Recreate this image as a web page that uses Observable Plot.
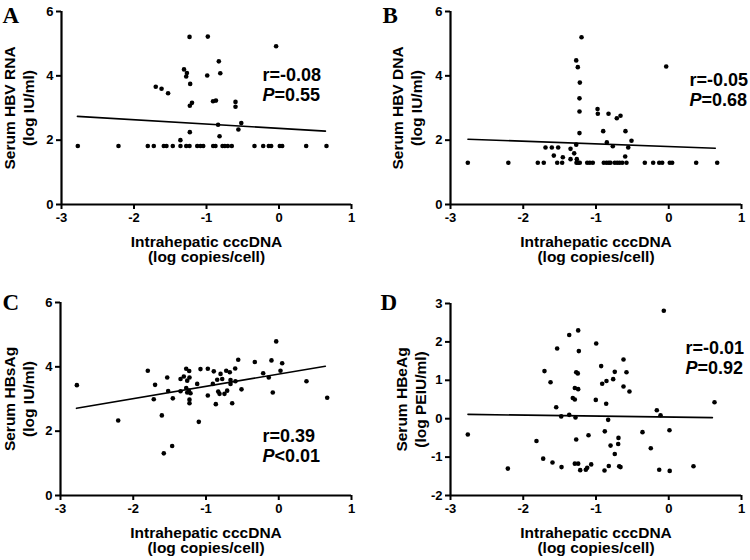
<!DOCTYPE html>
<html><head><meta charset="utf-8">
<script src="https://cdn.jsdelivr.net/npm/d3@7"></script>
<script src="https://cdn.jsdelivr.net/npm/@observablehq/plot@0.6"></script>
<style>
body{margin:0;background:#fff;}
#fig{position:relative;width:750px;height:560px;overflow:hidden;background:#fff;}
#fig > div{position:absolute;line-height:0;}
#fig svg{display:block;}
</style></head><body><div id="fig"></div>
<script>
// ---- shared ----
const xTicks = [-3, -2, -1, 0, 1];
const xLabel = "Intrahepatic cccDNA\n(log copies/cell)";

// ---- Panel A: Serum HBV RNA ----
const aX = [-1.234,-0.982,-0.83,-1.31,-1.27,-1.28,-0.99,-0.81,-1.225,-1.70,-1.62,-1.53,-1.20,-1.23,-0.91,-0.87,-0.60,-0.60,-0.52,-0.56,-0.84,-1.23,-0.82,-1.36,-0.04,
  -2.775,-2.214,-1.81,-1.727,-1.589,-1.552,-1.465,-1.359,-1.28,-1.234,-1.128,-1.083,-1.045,-0.908,-0.876,-0.779,-0.747,-0.706,-0.651,-0.338,-0.218,-0.141,-0.108,0.011,0.044,0.375,0.655];
const aY = [5.21,5.22,4.45,4.20,4.09,3.98,4.01,4.08,3.75,3.66,3.60,3.46,3.16,3.07,3.21,3.23,3.19,3.04,2.53,2.33,2.48,2.25,2.12,2.00,4.92,
  1.82,1.82,1.82,1.82,1.82,1.82,1.82,1.82,1.82,1.82,1.82,1.82,1.82,1.82,1.82,1.82,1.82,1.82,1.82,1.82,1.82,1.82,1.82,1.82,1.82,1.82,1.82];
const aFitX = [-2.78, 0.64];
const aFitY = [2.74, 2.28];

// ---- Panel B: Serum HBV DNA ----
const bX = [-1.199,-1.272,-1.25,-1.222,-1.227,-1.227,-1.227,-0.035,-0.979,-0.975,-0.828,-0.714,-0.663,-0.901,-0.595,-0.512,-0.851,-0.769,-0.557,-0.599,-1.694,-1.607,-1.52,-1.58,-1.456,-1.35,-1.30,-1.272,-1.35,-1.264,
  -2.762,-2.205,-1.80,-1.718,-1.533,-1.465,-1.268,-1.245,-1.223,-1.121,-1.085,-1.044,-0.893,-0.856,-0.824,-0.801,-0.742,-0.709,-0.677,-0.64,-0.581,-0.329,-0.214,-0.131,-0.09,0.014,0.047,0.377,0.666];
const bY = [5.20,4.48,4.27,3.79,3.30,2.89,2.22,4.29,2.97,2.82,2.82,2.68,2.76,2.28,2.28,1.98,1.93,1.81,1.77,1.49,1.77,1.77,1.77,1.52,1.47,1.73,1.59,1.86,1.41,1.41,
  1.30,1.30,1.30,1.30,1.30,1.30,1.30,1.30,1.30,1.30,1.30,1.30,1.30,1.30,1.30,1.30,1.30,1.30,1.30,1.30,1.30,1.30,1.30,1.30,1.30,1.30,1.30,1.30,1.30];
const bFitX = [-2.76, 0.64];
const bFitY = [2.03, 1.75];

// ---- Panel C: Serum HBsAg ----
const cX = [-0.035,-1.80,-1.533,-1.70,-1.718,-1.52,-1.456,-1.607,-2.207,-1.58,-1.465,-1.099,-1.272,-1.231,-1.35,-1.305,-1.227,-1.258,-1.35,-1.272,-1.236,-1.213,-1.258,-1.227,-1.227,-1.121,-1.076,-0.975,-0.893,-0.80,-0.722,-0.673,-0.599,-0.557,-0.329,-0.10,0.047,0.024,-0.214,-0.137,-0.082,0.381,0.666,-0.846,-0.906,-0.777,-0.663,-0.663,-0.595,-0.832,-0.814,-0.746,-0.709,-0.975,-0.865,-0.64,-0.512,-2.775];
const cY = [4.79,3.88,3.67,3.44,2.99,3.25,3.02,2.49,2.33,1.31,1.54,2.29,3.94,3.87,3.62,3.70,3.67,3.57,3.24,3.34,3.26,3.18,3.20,2.98,2.87,3.47,3.93,3.94,3.86,3.78,3.88,3.83,3.95,4.22,4.15,4.20,4.11,3.88,3.80,3.67,3.20,3.55,3.04,3.60,3.47,3.62,3.59,3.47,3.55,3.23,3.16,3.16,3.26,3.11,2.84,2.87,3.30,3.43];
const cFitX = [-2.78, 0.64];
const cFitY = [2.71, 4.02];

// ---- Panel D: Serum HBeAg ----
const dX = [-0.068,-2.762,-2.212,-1.818,-1.708,-1.625,-1.534,-1.547,-1.726,-1.598,-1.474,-1.478,-1.368,-1.245,-1.236,-1.272,-1.25,-1.291,-1.245,-1.319,-1.291,-1.368,-1.282,-1.272,-1.291,-1.245,-1.217,-1.14,-1.121,-1.066,-1.103,-0.997,-1.003,-0.929,-0.915,-0.856,-0.86,-0.833,-0.879,-0.883,-0.824,-0.764,-0.742,-0.622,-0.581,-0.622,-0.54,-0.691,-0.695,-0.80,-0.742,-0.681,-0.663,-0.361,-0.247,-0.164,-0.113,0.01,-0.131,0.013,0.34,0.629];
const dY = [2.81,-0.41,-1.30,-0.58,1.24,0.95,1.83,0.30,-1.04,-1.14,-1.26,0.06,2.18,2.30,1.76,1.21,1.18,0.80,0.77,0.54,0.50,0.10,0.03,-0.54,-1.17,-1.17,-1.34,-1.33,-1.28,-1.19,-0.43,1.96,0.49,1.37,0.91,0.98,0.39,-0.03,-0.33,-1.35,-1.23,1.03,1.22,1.54,1.21,0.84,0.71,-0.50,-0.66,-0.70,-0.92,-1.24,-1.26,-0.35,-0.77,0.22,0.09,-0.30,-1.33,-1.36,-1.24,0.43];
const dFitX = [-2.76, 0.60];
const dFitY = [0.113, 0.027];

const panels = [
  {letter:"A", yLabel:"Serum HBV RNA\n(log IU/ml)", r:"r=-0.08", p:"=0.55", xs:aX, ys:aY, fx:aFitX, fy:aFitY,
   yDomain:[0,6], yTicks:[0,2,4,6],
   left:0, top:0, width:375, height:268, ml:61, mr:24, mt:11, mb:64,
   letterDx:-59, letterDy:11, annDx:201, annDy:64, yLabDx:-43},
  {letter:"B", yLabel:"Serum HBV DNA\n(log IU/ml)", r:"r=-0.05", p:"=0.68", xs:bX, ys:bY, fx:bFitX, fy:bFitY,
   yDomain:[0,6], yTicks:[0,2,4,6],
   left:375, top:0, width:375, height:268, ml:75, mr:9, mt:11, mb:64,
   letterDx:-68, letterDy:11, annDx:239, annDy:69, yLabDx:-44},
  {letter:"C", yLabel:"Serum HBsAg\n(log IU/ml)", r:"r=0.39", p:"<0.01", xs:cX, ys:cY, fx:cFitX, fy:cFitY,
   yDomain:[0,6], yTicks:[0,2,4,6],
   left:0, top:268, width:375, height:292, ml:60, mr:24, mt:34, mb:65,
   letterDx:-58, letterDy:7, annDx:202, annDy:134, yLabDx:-42},
  {letter:"D", yLabel:"Serum HBeAg\n(log PEIU/ml)", r:"r=-0.01", p:"=0.92", xs:dX, ys:dY, fx:dFitX, fy:dFitY,
   yDomain:[-2,3], yTicks:[-2,-1,0,1,2,3],
   left:375, top:268, width:375, height:292, ml:75, mr:9, mt:35, mb:65,
   letterDx:-70, letterDy:6, annDx:235, annDy:45, yLabDx:-40}
];

const SANS = '"Liberation Sans", Arial, Helvetica, sans-serif';
const SERIF = '"Liberation Serif", "Times New Roman", serif';
const fig = document.getElementById("fig");

for (const c of panels) {
  const pts = c.xs.map((x, i) => ({x, y: c.ys[i]}));
  const fit = c.fx.map((x, i) => ({x, y: c.fy[i]}));
  const plot = Plot.plot({
    width: c.width, height: c.height,
    marginLeft: c.ml, marginRight: c.mr, marginTop: c.mt, marginBottom: c.mb,
    style: {fontFamily: SANS, fontWeight: "bold", fontSize: "13px", color: "#000", background: "#fff", overflow: "visible"},
    x: {domain: [-3, 1]},
    y: {domain: c.yDomain},
    marks: [
      Plot.line(fit, {x: "x", y: "y", stroke: "#000", strokeWidth: 1.6}),
      Plot.dot(pts, {x: "x", y: "y", r: 2.3, fill: "#000"}),
      Plot.axisX({ticks: xTicks, tickSize: 5, tickPadding: 3, strokeWidth: 2, fontSize: 13, tickFormat: d => String(d), label: null}),
      Plot.axisY({ticks: c.yTicks, tickSize: 5, tickPadding: 3, strokeWidth: 2, fontSize: 13, tickFormat: d => String(d), label: null}),
      Plot.text([xLabel], {text: d => d, frameAnchor: "bottom", dy: 45, lineAnchor: "middle", textAnchor: "middle",
        fontSize: 15.5, lineHeight: 1.0, fontWeight: "bold", fill: "#000"}),
      Plot.text([c.yLabel], {text: d => d, frameAnchor: "left", rotate: -90, dx: c.yLabDx, lineAnchor: "middle", textAnchor: "middle",
        fontSize: 15.5, lineHeight: 1.22, fontWeight: "bold", fill: "#000"}),
      Plot.text([c.letter], {text: d => d, frameAnchor: "top-left", dx: c.letterDx, dy: c.letterDy, textAnchor: "start", lineAnchor: "bottom",
        fontFamily: SERIF, fontSize: 23, fontWeight: "bold", fill: "#000"}),
      Plot.text([c.r], {text: d => d, frameAnchor: "top-left", dx: c.annDx, dy: c.annDy, textAnchor: "start", lineAnchor: "middle",
        fontSize: 18, fontWeight: "bold", fill: "#000"}),
      Plot.text(["P"], {text: d => d, frameAnchor: "top-left", dx: c.annDx, dy: c.annDy + 20, textAnchor: "start", lineAnchor: "middle",
        fontSize: 18, fontWeight: "bold", fontStyle: "italic", fill: "#000"}),
      Plot.text([c.p], {text: d => d, frameAnchor: "top-left", dx: c.annDx + 12, dy: c.annDy + 20, textAnchor: "start", lineAnchor: "middle",
        fontSize: 18, fontWeight: "bold", fill: "#000"}),
      Plot.ruleY([c.yDomain[0]], {stroke: "#000", strokeWidth: 2.2}),
      Plot.ruleX([-3], {stroke: "#000", strokeWidth: 2.2})
    ]
  });
  const holder = document.createElement("div");
  holder.style.left = c.left + "px";
  holder.style.top = c.top + "px";
  holder.style.width = c.width + "px";
  holder.style.height = c.height + "px";
  holder.appendChild(plot);
  fig.appendChild(holder);
}
</script>
</body></html>
